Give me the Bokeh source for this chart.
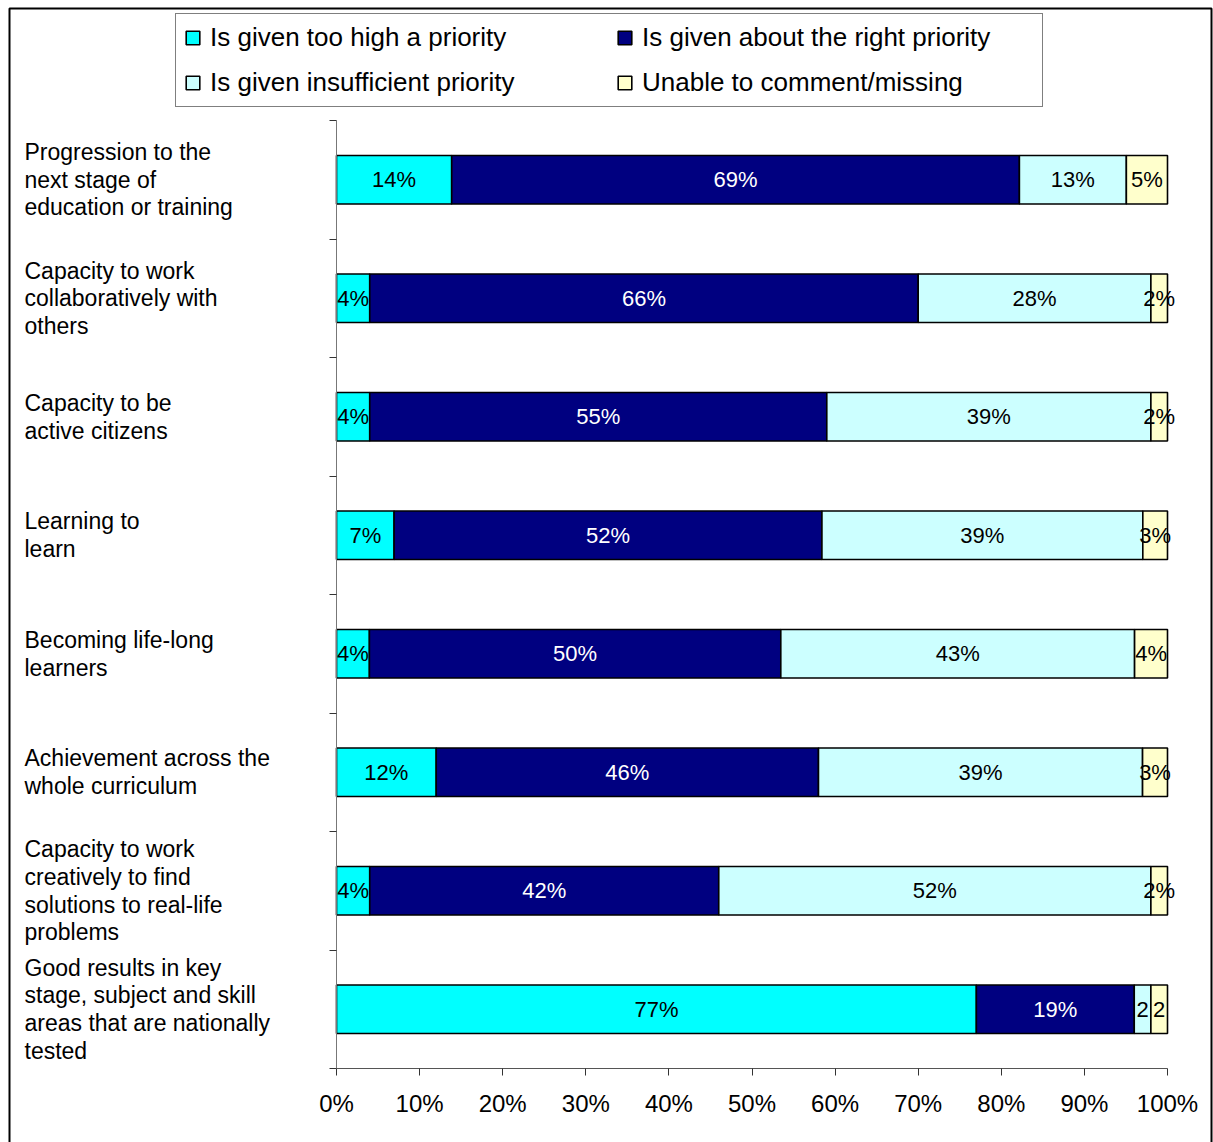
from bokeh.plotting import figure
from bokeh.models import (ColumnDataSource, Range1d, LinearAxis, FixedTicker,
                          NumeralTickFormatter, LabelSet, Legend, LegendItem, BoxAnnotation)
from bokeh.core.properties import value
from bokeh.embed import file_html
from bokeh.resources import INLINE

# ---------------- data ----------------
categories = [
    "Progression to the\nnext stage of\neducation or training",
    "Capacity to work\ncollaboratively with\nothers",
    "Capacity to be\nactive citizens",
    "Learning to\nlearn",
    "Becoming life-long\nlearners",
    "Achievement across the\nwhole curriculum",
    "Capacity to work\ncreatively to find\nsolutions to real-life\nproblems",
    "Good results in key\nstage, subject and skill\nareas that are nationally\ntested",
]
series_names = [
    "Is given too high a priority",
    "Is given about the right priority",
    "Is given insufficient priority",
    "Unable to comment/missing",
]
too_high = [14, 4, 4, 7, 4, 12, 4, 77]
about_right = [69, 66, 55, 52, 50, 46, 42, 19]
insufficient = [13, 28, 39, 39, 43, 39, 52, 2]
unable = [5, 2, 2, 3, 4, 3, 2, 2]

too_high_labels = ["14%", "4%", "4%", "7%", "4%", "12%", "4%", "77%"]
about_right_labels = ["69%", "66%", "55%", "52%", "50%", "46%", "42%", "19%"]
insufficient_labels = ["13%", "28%", "39%", "39%", "43%", "39%", "52%", "2"]
unable_labels = ["5%", "2%", "2%", "3%", "4%", "3%", "2%", "2"]

x_ticks = [0.0, 0.1, 0.2, 0.3, 0.4, 0.5, 0.6, 0.7, 0.8, 0.9, 1.0]

# ---------------- style / layout ----------------
series_colors = ["#00FFFF", "#000080", "#CCFFFF", "#FFFFCC"]
label_colors = ["black", "white", "black", "black"]
FONT = "Liberation Sans"
W, H = 1213, 1142
PLOT_L, PLOT_R, PLOT_T, PLOT_B = 336, 1167, 120, 1068   # plot-area pixels
LABEL_PX = 24                                           # category text left edge
BAR_H = 0.41

series = [too_high, about_right, insufficient, unable]
series_labels = [too_high_labels, about_right_labels, insufficient_labels, unable_labels]

n = len(categories)
ys = [i + 0.5 for i in range(n)]
totals = [sum(s[i] for s in series) for i in range(n)]

# ranges chosen so that 0..1 spans the plot area, frame spans the whole canvas
xpx = (PLOT_R - PLOT_L) / 1.0
ypx = (PLOT_B - PLOT_T) / n
x_range = Range1d(-PLOT_L / xpx, (W - PLOT_L) / xpx)
y_range = Range1d((H - PLOT_T) / ypx, -PLOT_T / ypx)
LABEL_X = (LABEL_PX - PLOT_L) / xpx

p = figure(width=W, height=H, output_backend="svg", toolbar_location=None,
           x_range=x_range, y_range=y_range,
           x_axis_type=None, y_axis_type=None,
           min_border=0)
p.outline_line_color = None
p.background_fill_color = "white"
p.border_fill_color = "white"

# axes (drawn in place inside the frame)
xaxis = LinearAxis(ticker=FixedTicker(ticks=x_ticks),
                   formatter=NumeralTickFormatter(format="0%"),
                   fixed_location=n, bounds=(0, 1))
xaxis.axis_line_color = "#555555"
xaxis.major_tick_line_color = "#333333"
xaxis.major_tick_out = 7
xaxis.major_tick_in = 0
xaxis.minor_tick_line_color = None
xaxis.major_label_text_font = FONT
xaxis.major_label_text_font_size = "24px"
xaxis.major_label_text_color = "black"
xaxis.major_label_standoff = 14
p.add_layout(xaxis, "below")

yaxis = LinearAxis(ticker=FixedTicker(ticks=list(range(n + 1))),
                   fixed_location=0, bounds=(0, n))
yaxis.major_label_overrides = {i: "" for i in range(n + 1)}
yaxis.axis_line_color = "#777777"
yaxis.major_tick_line_color = "#333333"
yaxis.major_tick_out = 7
yaxis.major_tick_in = 0
yaxis.minor_tick_line_color = None
p.add_layout(yaxis, "left")

# stacked bars (100% stacked)
left = [0.0] * n
renderers = []
for s_vals, s_labels, color, lcolor in zip(series, series_labels, series_colors, label_colors):
    frac = [v / t for v, t in zip(s_vals, totals)]
    right = [l + f for l, f in zip(left, frac)]
    mid = [(l + r) / 2 for l, r in zip(left, right)]
    src = ColumnDataSource(dict(y=ys, left=left, right=right, mid=mid, label=s_labels))
    r = p.hbar(y="y", left="left", right="right", height=BAR_H, source=src,
               fill_color=color, line_color="black", line_width=1.6)
    renderers.append(r)
    p.add_layout(LabelSet(x="mid", y="y", text="label", source=src,
                          text_align="center", text_baseline="middle",
                          text_color=lcolor, text_font=value(FONT),
                          text_font_size="22px"))
    left = right

# category labels
cat_src = ColumnDataSource(dict(y=ys, cat=categories))
p.add_layout(LabelSet(x=LABEL_X, y="y", text="cat", source=cat_src,
                      text_align="left", text_baseline="middle",
                      text_color="black", text_font=value(FONT),
                      text_font_size="23px", text_line_height=1.06))

# legend (items fill column by column: two rows x two columns)
items = [LegendItem(label=nm, renderers=[r]) for nm, r in zip(series_names, renderers)]
legend = Legend(items=[items[0], items[2], items[1], items[3]],
                location=(175, H - 107), ncols=2, margin=0)
legend.border_line_color = "black"
legend.border_line_width = 1
legend.background_fill_color = "white"
legend.background_fill_alpha = 1
legend.label_text_font = FONT
legend.label_text_font_size = "26px"
legend.label_text_color = "black"
legend.glyph_width = 17
legend.glyph_height = 17
legend.label_standoff = 9
legend.spacing = 14
legend.padding = 8
legend.label_height = 29
legend.label_width = 392
p.add_layout(legend)

# outer chart border
p.add_layout(BoxAnnotation(left=9, right=1211, top=8, bottom=1160,
                           left_units="canvas", right_units="canvas",
                           top_units="canvas", bottom_units="canvas",
                           fill_color=None, line_color="black", line_alpha=1.0,
                           line_width=2))

open("out.html", "w").write(file_html(p, INLINE))
